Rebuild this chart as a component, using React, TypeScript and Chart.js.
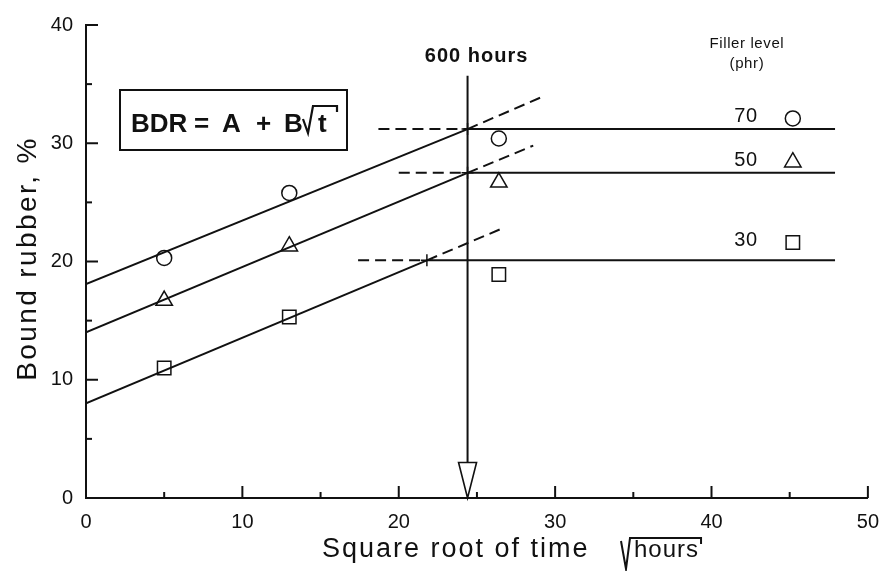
import React, { useEffect, useRef } from 'react';
import { Chart, registerables } from 'chart.js';

Chart.register(...registerables);

// Filler levels (phr) and their marker shapes
const fillerLevels = ['70', '50', '30'];
const markerStyles = ['circle', 'triangle', 'rect'];
const markerRadii = [7.5, 9.5, 9.5];

// Measured bound rubber (%) against square root of time (√hours)
const sampleRootHours = [5, 13, 26.4];
const bound70 = [20.3, 25.8, 30.4];
const bound50 = [16.7, 21.3, 26.7];
const bound30 = [11.0, 15.3, 18.9];
const measured = [bound70, bound50, bound30];

// Fitted BDR = A + B√t lines: intercept A, break point and plateau
const fitIntercept = [18.1, 14.0, 8.0];
const breakRootHours = [24.4, 24.4, 21.8];
const plateauBound = [31.2, 27.5, 20.1];
const extendRootHours = [29.3, 28.6, 26.8];
const extendBound = [34.0, 29.8, 22.9];
const guideStartRootHours = [18.7, 20.0, 17.4];
const plateauEndRootHours = 47.9;

// 600 hours marker
const arrowRootHours = 24.4;
const arrowTopBound = 35.7;
const arrowHeadBound = 3.0;

// Key column on the right
const keyRootHours = 45.2;
const keyLabelRootHours = 42.2;
const keyBound = [32.1, 28.4, 21.6];

const xMin = 0;
const xMax = 50;
const yMin = 0;
const yMax = 40;
const majorStep = 10;
const minorStep = 5;

const INK = '#111';
const FONT = '"Liberation Sans", Arial, Helvetica, sans-serif';

const seg = (x1: number, y1: number, x2: number, y2: number) => [
  { x: x1, y: y1 },
  { x: x2, y: y2 },
];

function buildDatasets() {
  const sets: any[] = [];
  const lineBase = {
    showLine: true,
    pointRadius: 0,
    borderColor: INK,
    borderWidth: 2,
    fill: false,
  };
  fillerLevels.forEach((lvl, i) => {
    sets.push({
      label: `${lvl} phr`,
      data: sampleRootHours.map((x, j) => ({ x, y: measured[i][j] })),
      showLine: false,
      pointStyle: markerStyles[i],
      pointRadius: markerRadii[i],
      borderColor: INK,
      backgroundColor: 'rgba(0,0,0,0)',
      borderWidth: 1.5,
    });
    sets.push({
      label: `${lvl} key`,
      data: [{ x: keyRootHours, y: keyBound[i] }],
      showLine: false,
      pointStyle: markerStyles[i],
      pointRadius: markerRadii[i],
      borderColor: INK,
      backgroundColor: 'rgba(0,0,0,0)',
      borderWidth: 1.5,
    });
    sets.push({
      ...lineBase,
      label: `${lvl} fit`,
      data: seg(0, fitIntercept[i], breakRootHours[i], plateauBound[i]),
    });
    sets.push({
      ...lineBase,
      label: `${lvl} fit extension`,
      borderDash: [11, 6],
      data: seg(breakRootHours[i], plateauBound[i], extendRootHours[i], extendBound[i]),
    });
    sets.push({
      ...lineBase,
      label: `${lvl} plateau`,
      data: seg(breakRootHours[i], plateauBound[i], plateauEndRootHours, plateauBound[i]),
    });
    sets.push({
      ...lineBase,
      label: `${lvl} guide`,
      borderDash: [11, 6],
      data: seg(guideStartRootHours[i], plateauBound[i], breakRootHours[i], plateauBound[i]),
    });
  });
  sets.push({
    label: 'break points',
    data: breakRootHours.map((x, i) => ({ x, y: plateauBound[i] })),
    showLine: false,
    pointStyle: 'cross',
    pointRadius: 6,
    borderColor: INK,
    borderWidth: 1.5,
  });
  sets.push({
    ...lineBase,
    label: '600 hours',
    data: seg(arrowRootHours, arrowTopBound, arrowRootHours, arrowHeadBound),
  });
  return sets;
}

const decorPlugin = {
  id: 'decor',
  afterDraw(chart: any) {
    const { ctx, chartArea } = chart;
    const xs = chart.scales.x;
    const ys = chart.scales.y;
    const { left, top, bottom } = chartArea;
    const setSpacing = (v: string) => {
      (ctx as any).letterSpacing = v;
    };
    ctx.save();
    ctx.strokeStyle = INK;
    ctx.fillStyle = INK;

    // inward tick marks
    ctx.lineWidth = 2;
    for (let v = yMin; v <= yMax; v += minorStep) {
      const py = ys.getPixelForValue(v);
      const len = v % majorStep === 0 ? 12 : 6;
      ctx.beginPath();
      ctx.moveTo(left, py);
      ctx.lineTo(left + len, py);
      ctx.stroke();
    }
    for (let v = xMin; v <= xMax; v += minorStep) {
      const px = xs.getPixelForValue(v);
      const len = v % majorStep === 0 ? 12 : 6;
      ctx.beginPath();
      ctx.moveTo(px, bottom);
      ctx.lineTo(px, bottom - len);
      ctx.stroke();
    }

    // open arrowhead at the foot of the 600 hours line
    const ax = xs.getPixelForValue(arrowRootHours);
    const aTop = ys.getPixelForValue(arrowHeadBound);
    const aTip = ys.getPixelForValue(0);
    ctx.lineWidth = 1.6;
    ctx.beginPath();
    ctx.moveTo(ax - 9, aTop);
    ctx.lineTo(ax + 9, aTop);
    ctx.lineTo(ax, aTip);
    ctx.closePath();
    ctx.stroke();

    // 600 hours label
    ctx.font = `bold 20px ${FONT}`;
    setSpacing('1px');
    ctx.textAlign = 'center';
    ctx.textBaseline = 'alphabetic';
    ctx.fillText('600 hours', ax + 9, top + 37);

    // key header and labels
    const kx = xs.getPixelForValue(keyLabelRootHours);
    ctx.font = `15px ${FONT}`;
    setSpacing('0.6px');
    ctx.fillText('Filler level', kx + 1, top + 23);
    ctx.fillText('(phr)', kx + 1, top + 43);
    setSpacing('0.5px');
    ctx.font = `20px ${FONT}`;
    ctx.textBaseline = 'middle';
    fillerLevels.forEach((lvl, i) => {
      ctx.fillText(lvl, kx, ys.getPixelForValue(keyBound[i]) - 2);
    });

    // equation box
    const bx = left + 34;
    const by = top + 65;
    const bw = 227;
    const bh = 60;
    ctx.lineWidth = 2;
    setSpacing('0px');
    ctx.strokeRect(bx, by, bw, bh);
    ctx.font = `bold 26px ${FONT}`;
    ctx.textAlign = 'left';
    ctx.textBaseline = 'alphabetic';
    const base = by + 42;
    const eqParts: [string, number][] = [
      ['BDR', 11],
      ['=', 74],
      ['A', 102],
      ['+', 136],
      ['B', 164],
    ];
    eqParts.forEach(([s, dx]) => ctx.fillText(s, bx + dx, base));
    const tx = bx + 183;
    ctx.lineWidth = 2.2;
    ctx.beginPath();
    ctx.moveTo(tx, base - 13);
    ctx.lineTo(tx + 5, base + 1);
    ctx.lineTo(tx + 10, base - 26);
    ctx.lineTo(tx + 34, base - 26);
    ctx.lineTo(tx + 34, base - 20);
    ctx.stroke();
    ctx.fillText('t', tx + 15, base);

    // y axis title
    ctx.save();
    ctx.font = `28px ${FONT}`;
    ctx.textAlign = 'center';
    ctx.textBaseline = 'middle';
    ctx.translate(28, (top + bottom) / 2 - 3);
    ctx.rotate(-Math.PI / 2);
    setSpacing('2.4px');
    ctx.fillText('Bound rubber, %', 0, 0);
    ctx.restore();

    // x axis title with radical
    ctx.font = `27px ${FONT}`;
    setSpacing('2px');
    ctx.textAlign = 'left';
    ctx.textBaseline = 'alphabetic';
    const xt = 'Square root of time';
    const xtx = left + 236;
    const xtb = bottom + 59;
    ctx.fillText(xt, xtx, xtb);
    const rx = left + 535;
    ctx.font = `24px ${FONT}`;
    setSpacing('1px');
    const hw = ctx.measureText('hours').width;
    ctx.lineWidth = 2;
    ctx.beginPath();
    ctx.moveTo(rx, xtb - 16);
    ctx.lineTo(rx + 5, xtb + 12);
    ctx.lineTo(rx + 9, xtb - 19);
    ctx.lineTo(rx + 13 + hw + 2, xtb - 19);
    ctx.lineTo(rx + 13 + hw + 2, xtb - 13);
    ctx.stroke();
    ctx.fillText('hours', rx + 13, xtb);

    ctx.restore();
  },
};

export default function App() {
  const canvasRef = useRef<HTMLCanvasElement | null>(null);

  useEffect(() => {
    if (!canvasRef.current) return;
    const chart = new Chart(canvasRef.current, {
      type: 'scatter',
      data: { datasets: buildDatasets() },
      options: {
        animation: false,
        responsive: true,
        maintainAspectRatio: false,
        layout: { padding: { left: 0, top: 21, right: 14, bottom: 0 } },
        plugins: {
          legend: { display: false },
          tooltip: { enabled: false },
        },
        scales: {
          x: {
            type: 'linear',
            min: xMin,
            max: xMax,
            grid: { display: false, drawTicks: false },
            border: { display: true, color: INK, width: 2 },
            ticks: {
              stepSize: majorStep,
              color: INK,
              padding: 12,
              font: { family: FONT, size: 20 },
            },
            afterFit: (s: any) => {
              s.height = 73;
            },
          },
          y: {
            type: 'linear',
            min: yMin,
            max: yMax,
            grid: { display: false, drawTicks: false },
            border: { display: true, color: INK, width: 2 },
            ticks: {
              stepSize: majorStep,
              color: INK,
              padding: 13,
              font: { family: FONT, size: 20 },
            },
            afterFit: (s: any) => {
              s.width = 86;
            },
          },
        },
      },
      plugins: [decorPlugin],
    });
    return () => chart.destroy();
  }, []);

  return (
    <div style={{ position: 'fixed', left: 0, top: 0, width: 891, height: 571, background: '#fff' }}>
      <canvas ref={canvasRef} />
    </div>
  );
}
